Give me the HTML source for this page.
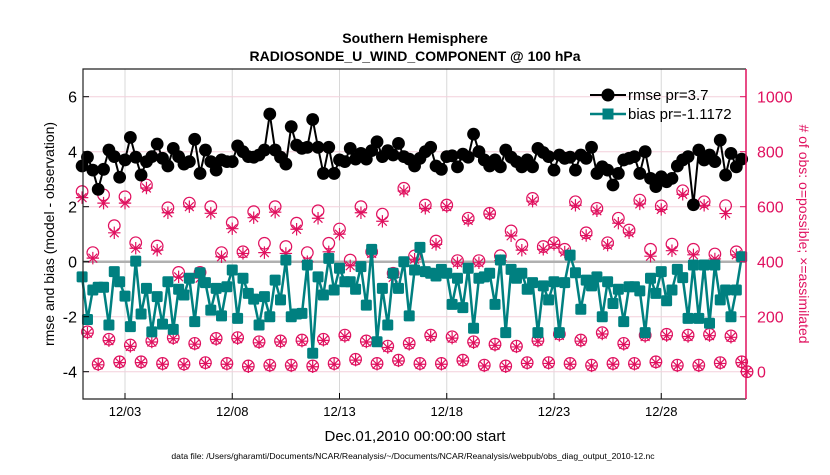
<!DOCTYPE html>
<html><head><meta charset="utf-8"><style>
body{margin:0;background:#fff;width:830px;height:470px;overflow:hidden}
svg{font-family:"Liberation Sans",Arial,sans-serif}
</style></head><body>
<svg id="chart" width="830" height="470" xmlns="http://www.w3.org/2000/svg">
<rect width="830" height="470" fill="#fff"/>
<text x="415" y="43" text-anchor="middle" font-size="14" font-weight="bold">Southern Hemisphere</text>
<text x="415" y="61" text-anchor="middle" font-size="14" font-weight="bold">RADIOSONDE_U_WIND_COMPONENT @ 100 hPa</text>
<g id="grid"></g><g id="obs"></g><g id="series"></g><g id="axes"></g>
<text x="415" y="441" text-anchor="middle" font-size="15">Dec.01,2010 00:00:00 start</text>
<text x="413" y="459" text-anchor="middle" font-size="8.6">data file: /Users/gharamti/Documents/NCAR/Reanalysis/~/Documents/NCAR/Reanalysis/webpub/obs_diag_output_2010-12.nc</text>
<text transform="translate(54,234) rotate(-90)" text-anchor="middle" font-size="14">rmse and bias (model - observation)</text>
<text transform="translate(799,234) rotate(90)" text-anchor="middle" font-size="14" fill="#e0115f"># of obs: o=possible; ×=assimilated</text>
<g>
<line x1="590" y1="95" x2="626" y2="95" stroke="#000" stroke-width="2"/><circle cx="608" cy="95" r="6.5" fill="#000"/>
<text x="628" y="100" font-size="15">rmse pr=3.7</text>
<line x1="590" y1="114" x2="626" y2="114" stroke="#008080" stroke-width="2.5"/><rect x="602.5" y="108.5" width="11" height="11" fill="#008080"/>
<text x="628" y="119" font-size="15">bias pr=-1.1172</text>
</g>
</svg>
<script>
const rmse=[3.48,3.8,3.33,2.63,3.36,4.06,3.82,3.07,3.7,4.52,3.8,3.15,3.64,3.82,4.28,3.76,3.48,4.12,3.82,3.55,3.64,4.45,3.21,4.06,3.64,3.33,3.7,3.64,3.64,4.21,4.0,3.82,3.8,3.88,4.06,5.37,4.06,3.8,3.55,4.91,4.24,4.12,4.16,5.17,4.16,3.21,4.16,3.21,3.7,3.64,4.12,3.73,3.94,3.73,4.04,4.36,3.82,4.04,3.88,4.3,3.82,3.73,3.48,3.76,4.0,4.16,3.48,3.36,3.82,3.85,3.45,3.91,3.8,4.64,4.0,3.7,3.48,3.7,3.45,4.06,3.8,3.64,3.45,3.7,3.45,4.12,3.97,3.82,3.33,3.88,3.76,3.8,3.33,3.88,3.76,4.16,3.21,3.45,3.33,2.79,3.21,3.7,3.76,3.82,3.21,4.0,3.03,2.73,3.09,2.91,3.03,3.48,3.7,3.82,2.07,4.06,3.7,3.88,3.64,4.42,3.15,3.94,3.45,3.73];
const bias=[-0.55,-2.1,-1.03,-0.93,-0.93,-2.3,-0.36,-0.73,-1.25,-2.36,0.02,-1.9,-0.97,-2.55,-1.27,-2.27,-0.73,-2.46,-1.0,-1.21,-0.6,-2.18,-0.4,-0.76,-1.76,-0.97,-1.97,-0.91,-0.3,-2.06,-0.6,-1.15,-1.36,-2.3,-1.27,-2.0,-0.67,-1.39,0.06,-2.0,-1.9,-1.88,-0.12,-3.33,-0.55,-1.21,0.12,-1.03,-0.24,-0.73,-0.73,-1.0,-0.18,-1.58,0.45,-2.91,-0.97,-2.3,-0.42,-0.97,0,-1.97,-0.3,0.52,-0.36,-0.42,-0.52,-0.28,-0.42,-1.55,-0.6,-1.67,-0.24,-2.42,-0.6,-0.55,-0.42,-1.55,0.06,-2.58,-0.28,-0.6,-0.42,-1.0,-0.76,-2.58,-0.88,-1.39,-0.73,-2.58,-0.76,0.24,-0.4,-1.73,-0.67,-0.88,-0.55,-2.0,-0.73,-1.52,-1.0,-2.18,-0.91,-0.91,-1.06,-2.58,-0.6,-1.15,-0.36,-1.42,-1.03,-0.28,-0.58,-2.06,-0.12,-2.06,-0.12,-2.24,-0.12,-1.39,-1.03,-2.0,-1.03,0.18];
const possible00=[655,643,636,679,596,613,600,542,582,600,540,585,519,600,573,667,606,606,558,576,512,630,469,618,594,558,624,603,658,618,604];
const assim00=[633,613,613,668,578,600,576,520,560,580,518,558,500,578,547,657,594,600,550,573,494,620,463,605,585,540,610,590,645,605,575];
const possible06=[145,118,97,112,124,103,121,124,109,112,115,118,133,112,93,103,133,127,109,100,93,115,137,115,142,103,133,136,133,136,130];
const assim06=[140,113,92,108,120,100,117,120,105,108,111,114,128,108,88,99,128,122,105,96,90,111,132,111,137,99,128,131,128,131,125];
const possible12=[433,531,469,457,361,361,433,436,467,455,433,467,406,436,358,421,475,404,404,422,461,455,445,505,469,515,445,464,445,428,436];
const assim12=[413,505,449,442,345,340,418,430,433,430,400,436,385,430,343,409,463,396,396,404,442,445,435,495,460,505,420,440,425,410,425];
const possible18=[28,36,36,30,28,33,30,21,24,24,21,30,45,30,42,30,30,42,24,21,33,33,30,24,30,30,36,24,24,33,36];
const assim18=[25,33,33,27,25,30,27,18,21,21,18,27,42,27,39,27,27,39,21,18,30,30,27,21,27,27,33,21,21,30,33];
const finalPossible=[0];
const xTickDays=[2,7,12,17,22,27];
const xTickLabels=["12/03","12/08","12/13","12/18","12/23","12/28"];
const leftTicks=[-4,-2,0,2,4,6];
const rightTicks=[0,200,400,600,800,1000];

const NS="http://www.w3.org/2000/svg";
const L=83,R=746,T=69,B=399;
const xs=d=>82.1+21.45*d;
const ys=v=>261.7-27.5*v;
const yr=n=>ys(n/100-4);
const RED="#e0115f";
function mk(tag,attrs,parent){const e=document.createElementNS(NS,tag);for(const k in attrs)e.setAttribute(k,attrs[k]);parent.appendChild(e);return e;}
const grid=document.getElementById('grid'),axes=document.getElementById('axes'),obs=document.getElementById('obs'),ser=document.getElementById('series');

xTickDays.forEach((d,i)=>{
 const g=mk('line',{x1:xs(d),x2:xs(d),y1:T,y2:B,stroke:"#d8d8d8","stroke-width":1},grid);
 
 
 const t=mk('text',{x:xs(d),y:416,"text-anchor":"middle","font-size":13},axes);
 t.textContent=xTickLabels[i];
 
 
 mk('line',{x1:xs(d),x2:xs(d),y1:B,y2:B-6,stroke:"#000"},axes);
});
rightTicks.forEach(n=>{
 const g=mk('line',{x1:L,x2:R,y1:yr(n),y2:yr(n),stroke:"#f3d0dc","stroke-width":1},grid);
 
 
 const t=mk('text',{x:757,y:yr(n)+6,"font-size":16,fill:RED},axes);
 t.textContent=n;
 
 
 mk('line',{x1:R,x2:R-6,y1:yr(n),y2:yr(n),stroke:RED},axes);
});
const z=mk('line',{x1:L,x2:R,y1:ys(0),y2:ys(0),stroke:"#b0b0b0","stroke-width":2.5},grid);


leftTicks.forEach(v=>{
 const t=mk('text',{x:77,y:ys(v)+6,"text-anchor":"end","font-size":16},axes);
 t.textContent=v;
 
 
 mk('line',{x1:L,x2:L+6,y1:ys(v),y2:ys(v),stroke:"#000"},axes);
});
mk('path',{d:`M${R} ${T}H${L}V${B}H${R}`,fill:"none",stroke:"#222","stroke-width":1.2},axes);
mk('line',{x1:R,x2:R,y1:T,y2:B,stroke:RED,"stroke-width":1.5},axes);

function circ(x,y){const c=mk('circle',{cx:x,cy:y,r:5.8,fill:"none",stroke:RED,"stroke-width":1.2},obs);
 
 }
function star(x,y){const s=6.2;const p=mk('path',{d:`M${x-s} ${y}H${x+s}M${x} ${y-s}V${y+s}M${x-4.4} ${y-4.4}L${x+4.4} ${y+4.4}M${x-4.4} ${y+4.4}L${x+4.4} ${y-4.4}`,stroke:RED,"stroke-width":1.2,fill:"none"},obs);
 
 }
const sets=[[possible00,assim00,0],[possible06,assim06,0.25],[possible12,assim12,0.5],[possible18,assim18,0.75]];
sets.forEach(([p,a,off])=>{p.forEach((n,d)=>{circ(xs(d+off),yr(n));star(xs(d+off),yr(a[d]));});});
finalPossible.forEach(n=>{circ(xs(31),yr(n));star(xs(31),yr(n));});

function line(arr,color,w,name){
 const pts=arr.map((v,i)=>xs(i*0.25).toFixed(1)+","+ys(v).toFixed(1)).join(" ");
 const pl=mk('polyline',{points:pts,fill:"none",stroke:color,"stroke-width":w,"stroke-linejoin":"round"},ser);
 
 
}
line(bias,"#008080",2.5,"bias-line");
bias.forEach((v,i)=>{const r=mk('rect',{x:xs(i*0.25)-5.5,y:ys(v)-5.5,width:11,height:11,rx:1.5,fill:"#008080"},ser);
 
 });
line(rmse,"#000",2,"rmse-line");
rmse.forEach((v,i)=>{const c=mk('circle',{cx:xs(i*0.25),cy:ys(v),r:6.4,fill:"#000"},ser);
 
 });
</script>
</body></html>
